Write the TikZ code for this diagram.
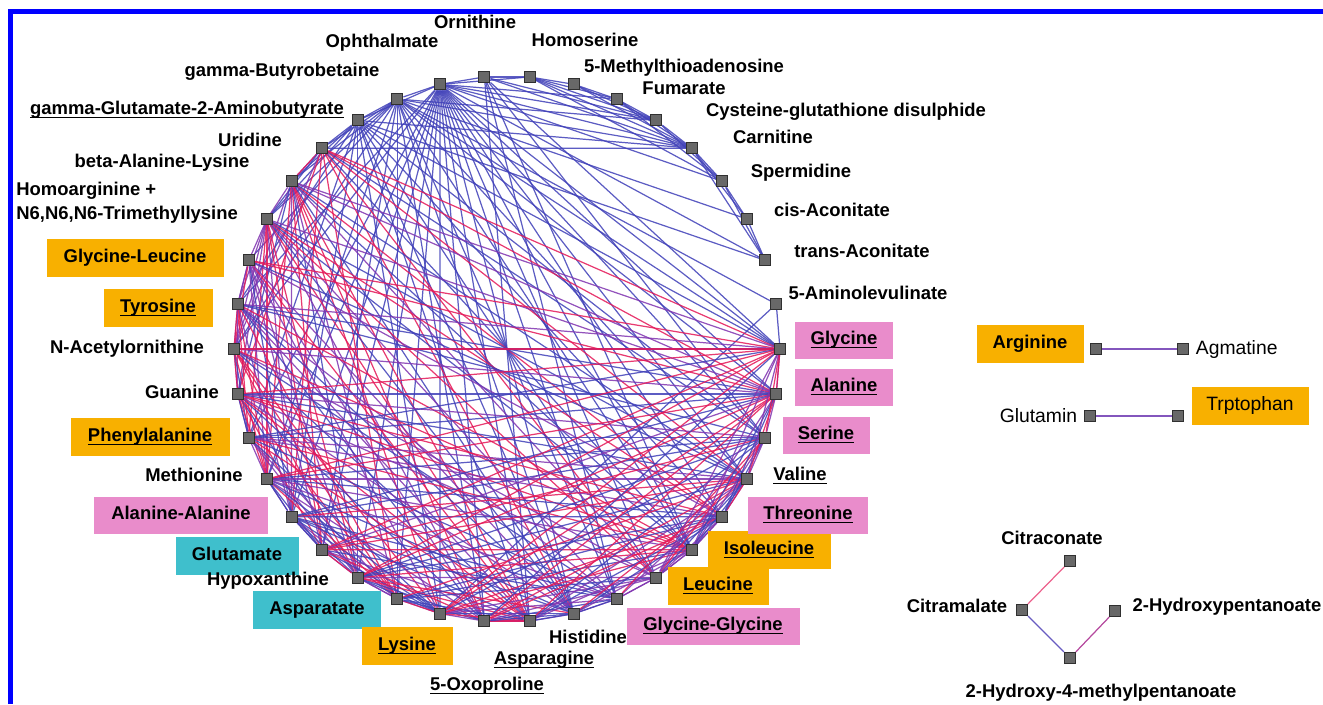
\documentclass[tikz,border=0pt]{standalone}
\usepackage{fontspec}
\setmainfont{Liberation Sans}
\usetikzlibrary{positioning}
\definecolor{boxorange}{HTML}{F8B000}
\definecolor{boxpink}{HTML}{E98CCB}
\definecolor{boxcyan}{HTML}{3FBFCC}
\definecolor{edgeblue}{HTML}{4040B8}
\definecolor{edgered}{HTML}{E41858}
\definecolor{edgepurple}{HTML}{8034B0}
\definecolor{sqfill}{HTML}{686868}
\definecolor{sqdraw}{HTML}{303030}
\pgfdeclarelayer{background}
\pgfsetlayers{background,main}
\newcommand\ulname[1]{\underline{\smash{#1}}}
\newcommand\lblfont{\bfseries\fontsize{10.5}{13.6}\selectfont}
\newcommand\lightfont{\fontsize{11}{13}\selectfont}

\begin{document}
\begin{tikzpicture}[x=0.02cm,y=-0.02cm,
    met/.style={draw=sqdraw,fill=sqfill,line width=0.6pt,minimum size=0.22cm,inner sep=0pt},
    lbl/.style={font=\lblfont,inner sep=0pt,text height=0.75em,text depth=0.2em},
    lightlbl/.style={font=\lightfont,inner sep=0pt},
    orangebox/.style={lbl,fill=boxorange,minimum height=0.75cm},
    pinkbox/.style={lbl,fill=boxpink,minimum height=0.74cm},
    cyanbox/.style={lbl,fill=boxcyan,minimum height=0.75cm},
    link/.style={line width=0.7pt,opacity=0.85}]
  \useasboundingbox (0,0) rectangle (1323,704);
  \draw[blue,line width=0.1cm] (10.5,704) -- (10.5,11) -- (1323,11);  %Rahmen

  %Kreis der Metabolite
  \foreach \k in {0,...,37}
  {
    \pgfmathsetmacro\px{507+273*cos(\k*360/38)}
    \pgfmathsetmacro\py{349-273*sin(\k*360/38)}
    \node[met] (n\k) at (\px,\py) {};
  };
  \foreach \k/\x/\y/\sty/\w/\txt in
  {
    0/844/340/pinkbox/98/\ulname{Glycine},
    1/868/295/lbl/0/5-Aminolevulinate,
    2/862/253/lbl/0/trans-Aconitate,
    3/832/212/lbl/0/cis-Aconitate,
    4/801/173/lbl/0/Spermidine,
    5/773/139/lbl/0/Carnitine,
    6/846/112/lbl/0/Cysteine-glutathione disulphide,
    7/684/90/lbl/0/Fumarate,
    8/684/68/lbl/0/5-Methylthioadenosine,
    9/585/42/lbl/0/Homoserine,
    10/475/24/lbl/0/Ornithine,
    11/382/43/lbl/0/Ophthalmate,
    12/282/72/lbl/0/gamma-Butyrobetaine,
    13/187/110/lbl/0/\ulname{gamma-Glutamate-2-Aminobutyrate},
    14/250/142/lbl/0/Uridine,
    15/162/163/lbl/0/beta-Alanine-Lysine,
    17/135/258/orangebox/177/Glycine-Leucine,
    18/158/308/orangebox/109/\ulname{Tyrosine},
    19/127/349/lbl/0/N-Acetylornithine,
    20/182/394/lbl/0/Guanine,
    21/150/437/orangebox/159/\ulname{Phenylalanine},
    22/194/477/lbl/0/Methionine,
    23/181/515/pinkbox/174/Alanine-Alanine,
    24/237/556/cyanbox/123/Glutamate,
    25/268/581/lbl/0/Hypoxanthine,
    26/317/610/cyanbox/128/Asparatate,
    27/407/646/orangebox/91/\ulname{Lysine},
    28/487/686/lbl/0/\ulname{5-Oxoproline},
    29/544/660/lbl/0/\ulname{Asparagine},
    30/588/639/lbl/0/Histidine,
    31/713/626/pinkbox/173/\ulname{Glycine-Glycine},
    32/718/586/orangebox/101/\ulname{Leucine},
    33/769/550/orangebox/123/\ulname{Isoleucine},
    34/808/515/pinkbox/120/\ulname{Threonine},
    35/800/476/lbl/0/\ulname{Valine},
    36/826/435/pinkbox/87/\ulname{Serine},
    37/844/387/pinkbox/98/\ulname{Alanine}}
  {
    \node[\sty,minimum width=\w*0.02cm] (l\k) at (\x,\y) {\txt};
  };
  \node[font=\lblfont,inner sep=0pt,align=left,anchor=west] (l16) at (16,203)
    {Homoarginine +\\N6,N6,N6-Trimethyllysine};

  %Kanten
  \begin{pgfonlayer}{background}
    \foreach \a/\b in
    {
      10/9, 10/11, 9/8, 9/7, 9/6, 9/5, 9/4, 8/7, 8/6, 8/5, 7/6, 7/5, 7/4,
      6/5, 6/4, 5/4, 5/3, 5/2, 4/3, 4/2, 3/2, 10/5, 10/6, 12/6, 12/5,
      12/3, 13/5, 13/2, 14/5, 12/1, 1/0, 1/27, 0/19}
    {
      \draw[link,edgeblue] (n\a) -- (n\b);
    };
    \foreach \s/\ts in
    {
      11/{9,7,6,5,4,2,0,37,36,35,34,33,32,31,30,29,28,27,26,25,24,23,22,21,19,18,13,12},
      12/{13,14,15,16,0,37,35,33,31,30,28,26,24,22,19,17},
      13/{14,15,16,0,36,34,32,30,29,27,25,23,21,18},
      10/{0,36,33,31,29}}
    {
      \foreach \t in \ts
        \draw[link,edgeblue] (n\s) -- (n\t);
    };
    \pgfmathsetseed{2718}
    \foreach \i in {14,...,37}
    {
      \pgfmathtruncatemacro\ii{\i+1}
      \pgfmathtruncatemacro\nb{mod(\ii,38)}
      \draw[link,edgepurple] (n\i) -- (n\nb);
      \foreach \j in {\ii,...,38}
      {
        \pgfmathtruncatemacro\jj{mod(\j,38)}
        \pgfmathtruncatemacro\keep{rnd<0.72 ? 1 : 0}
        \pgfmathtruncatemacro\col{int(3*rnd)}
        \ifnum\keep=1
          \ifcase\col
            \draw[link,edgered] (n\i) -- (n\jj);
          \or
            \draw[link,edgeblue] (n\i) -- (n\jj);
          \else
            \draw[link,edgepurple] (n\i) -- (n\jj);
          \fi
        \fi
      };
    };
  \end{pgfonlayer}

  %kleine Netze rechts
  \node[met] (sArg) at (1096,349) {};
  \node[met] (sAgm) at (1183,349) {};
  \node[met] (sGln) at (1090,416) {};
  \node[met] (sTrp) at (1178,416) {};
  \node[met] (sCitraconate) at (1070,561) {};
  \node[met] (sCitramalate) at (1022,610) {};
  \node[met] (sHP) at (1115,611) {};
  \node[met] (sHMP) at (1070,658) {};
  \node[orangebox,minimum width=107*0.02cm] (lArg) at (1030,344) {Arginine};
  \node[lightlbl,right=0.13cm of sAgm] (lAgm) {Agmatine};
  \node[lightlbl,left=0.13cm of sGln] (lGln) {Glutamin};
  \node[orangebox,font=\lightfont,minimum width=117*0.02cm] (lTrp) at (1250,406) {Trptophan};
  \node[lbl] (lCitraconate) at (1052,540) {Citraconate};
  \node[lbl] (lCitramalate) at (957,608) {Citramalate};
  \node[lbl] (lHP) at (1227,607) {2-Hydroxypentanoate};
  \node[lbl] (lHMP) at (1101,693) {2-Hydroxy-4-methylpentanoate};
  \begin{pgfonlayer}{background}
    \draw[link,edgepurple!70!edgeblue] (sArg) -- (sAgm);
    \draw[link,edgepurple!70!edgeblue] (sGln) -- (sTrp);
    \draw[link,edgered!80!white] (sCitramalate) -- (sCitraconate);
    \draw[link,edgeblue!80!edgepurple] (sCitramalate) -- (sHMP);
    \draw[link,edgepurple!60!edgered] (sHMP) -- (sHP);
  \end{pgfonlayer}
\end{tikzpicture}
\end{document}
